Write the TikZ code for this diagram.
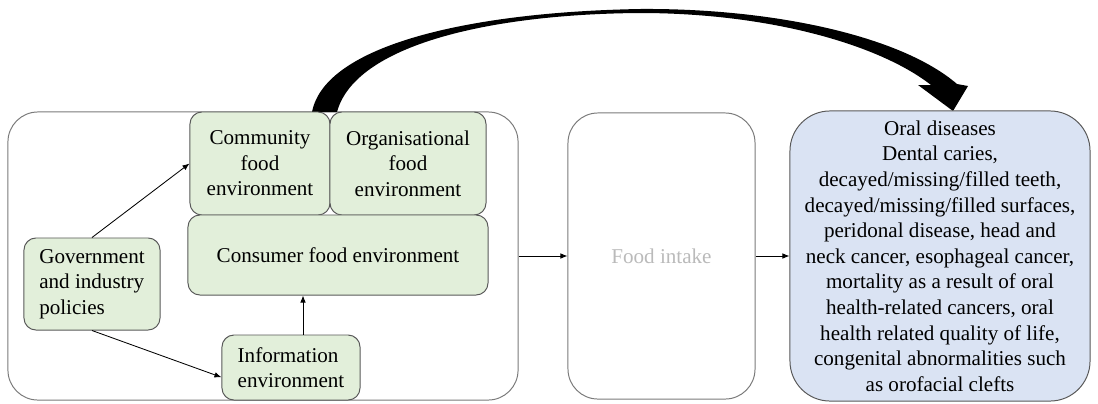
\documentclass[tikz,border=0pt]{standalone}
\usepackage{fontspec}
\setmainfont{Liberation Serif}
\usepackage{tikz}
\usetikzlibrary{arrows.meta}
\definecolor{boxgreen}{HTML}{E2EFDA}
\definecolor{boxblue}{HTML}{DAE3F3}
\definecolor{edgegray}{HTML}{595959}

\begin{document}
\begin{tikzpicture}[x=0.025cm,y=-0.025cm,
  txt/.style={font=\rmfamily\fontsize{15}{18.2}\selectfont},
  bigbox/.style={draw=edgegray!80,line width=0.7pt,rounded corners=0.75cm,inner sep=0pt},
  envbox/.style={draw=edgegray,fill=boxgreen,line width=0.7pt,rounded corners=0.3cm,inner sep=0pt,align=center,txt},
  link/.style={-{Latex[length=5pt,width=4pt]},line width=0.6pt}]
\useasboundingbox (0,0) rectangle (1098,403);

\node [bigbox,minimum width=12.75cm,minimum height=7.2cm](outer) at (263,256) {};

% big curved arrow
\fill [black](312,112) .. controls (325,45) and (470,12) .. (640,9)
  .. controls (770,8) and (900,35) .. (957,84) -- (968,86) -- (953,111) -- (918,85) -- (931,85)
  .. controls (880,45) and (770,13) .. (640,13)
  .. controls (490,14) and (355,45) .. (337,112) -- cycle;

\node [envbox,minimum width=3.5cm,minimum height=2.575cm](comm) at (260,163.5) {Community\\food\\environment};
\node [envbox,minimum width=3.9cm,minimum height=2.575cm](org) at (408,163.5) {Organisational\\food\\environment};
\node [envbox,minimum width=7.5cm,minimum height=2cm](cons) at (338,255) {Consumer food environment};
\node [envbox,align=left,minimum width=3.4cm,minimum height=2.3cm](gov) at (92,284) {Government\\and industry\\policies};
\node [envbox,align=left,minimum width=3.45cm,minimum height=1.625cm](info) at (291,367.5) {Information\\environment};

\node [bigbox,txt,text=black!27,minimum width=4.675cm,minimum height=7.15cm](food) at (661.5,256) {Food intake};
\node [draw=edgegray,fill=boxblue,line width=0.7pt,rounded corners=1cm,inner sep=0pt,align=center,txt,
  minimum width=7.5cm,minimum height=7.25cm](oral) at (940,256) {Oral diseases\\Dental caries,\\decayed/missing/filled teeth,\\decayed/missing/filled surfaces,\\peridonal disease, head and\\neck cancer, esophageal cancer,\\mortality as a result of oral\\health-related cancers, oral\\health related quality of life,\\congenital abnormalities such\\as orofacial clefts};

\draw [link](gov.north) -- (comm.west);
\draw [link](gov.south) -- (info.188);
\draw [link](info.70) -- (info.70 |- cons.south);
\draw [link](outer.east) -- (food.west);
\draw [link](food.east) -- (oral.west);

\end{tikzpicture}
\end{document}
